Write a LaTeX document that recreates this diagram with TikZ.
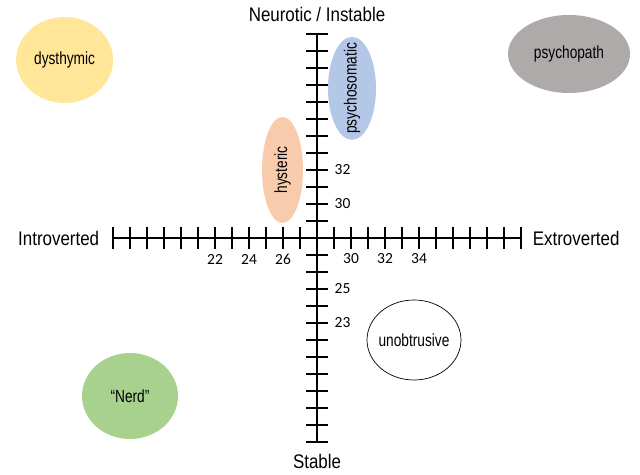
\documentclass[tikz,border=0pt]{standalone}
\usepackage{fontspec}
\setmainfont{Liberation Sans}[FakeStretch=0.86]
\newfontfamily\typefont{Liberation Sans}[FakeStretch=0.78]
\newfontfamily\numfont{Carlito}
\usetikzlibrary{positioning,shapes.geometric}

\definecolor{dysyellow}{HTML}{FFE699}
\definecolor{psygray}{HTML}{AEAAAA}
\definecolor{somblue}{HTML}{B4C7E7}
\definecolor{hyspeach}{HTML}{F8CBAD}
\definecolor{nerdgreen}{HTML}{A9D18E}

\begin{document}
\begin{tikzpicture}[
    axis/.style = {line width = 1.4pt},
    tick/.style = {line width = 1.1pt},
    blob/.style = {
      ellipse,
      inner sep = 0pt
    },
    type/.style = {
      inner sep = 0pt,
      font = \typefont\fontsize{12.5}{14}\selectfont
    },
    num/.style = {
      inner sep = 1pt,
      font = \numfont\fontsize{11}{13}\selectfont
    },
    axlabel/.style = {
      inner sep = 0pt,
      font = \fontsize{14}{16}\selectfont
    }
  ]
  \useasboundingbox (-7.925,-5.925) rectangle (8.075,5.95);

  \coordinate (O) at (0,0);
  \coordinate (W) at (-5.1,0);
  \coordinate (E) at (5.1,0);
  \coordinate (N) at (0,5.1);
  \coordinate (S) at (0,-5.1);

  \draw[axis] (W) -- (E);
  \draw[axis] (S) -- (N);

  \foreach \i in {-12,...,12} {
    \draw[tick] (\i*0.425,-0.275) -- (\i*0.425,0.275);
    \draw[tick] (-0.275,\i*0.425) -- (0.275,\i*0.425);
  }

  \foreach \i/\t in {-6/22,-4/24,-2/26,2/30,4/32,6/34}
    \node[num] (h\t) at (\i*0.425,-0.525) {\t};

  \node[num, anchor = west] (v32) at (0.4,4*0.425) {32};
  \node[num, anchor = west] (v30) at (0.4,2*0.425) {30};
  \node[num, anchor = west] (v25) at (0.4,-3*0.425) {25};
  \node[num, anchor = west] (v23) at (0.4,-5*0.425) {23};

  \node[axlabel, left = 0.34cm of W] (intro) {Introverted};
  \node[axlabel, right = 0.29cm of E] (extro) {Extroverted};
  \node[axlabel] (neuro) at (0,5.6) {Neurotic / Instable};
  \node[axlabel] (stable) at (0,-5.575) {Stable};

  \node[blob, fill = dysyellow, minimum width = 2.425cm, minimum height = 2.15cm]
    (dys) at (-6.31,4.45) {};
  \node[blob, fill = psygray, minimum width = 3.05cm, minimum height = 1.95cm]
    (psy) at (6.3,4.6) {};
  \node[blob, fill = somblue, minimum width = 1.2cm, minimum height = 2.575cm]
    (som) at (0.875,3.74) {};
  \node[blob, fill = hyspeach, minimum width = 1.025cm, minimum height = 2.65cm]
    (hys) at (-0.8625,1.7) {};
  \node[blob, draw, line width = 0.5pt, fill = white, minimum width = 2.35cm, minimum height = 2cm]
    (unob) at (2.425,-2.55) {};
  \node[blob, fill = nerdgreen, minimum width = 2.4cm, minimum height = 2.15cm]
    (nerd) at (-4.675,-3.95) {};

  \node[type] (dyst) at (dys) {dysthymic};
  \node[type] (psyt) at (psy) {psychopath};
  \node[type, rotate = 90] (somt) at (som) {psychosomatic};
  \node[type, rotate = 90] (hyst) at (hys) {hysteric};
  \node[type] (unobt) at (unob) {unobtrusive};
  \node[type] (nerdt) at (nerd) {“Nerd”};

\end{tikzpicture}
\end{document}
